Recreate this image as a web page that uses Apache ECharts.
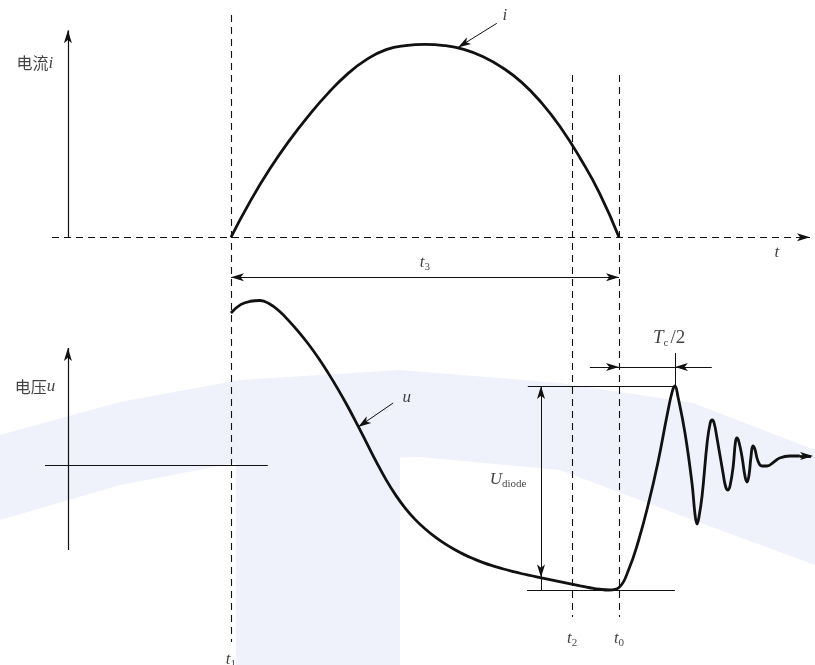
<!DOCTYPE html>
<html lang="zh">
<head>
    <meta charset="UTF-8">
    <title>电流电压波形</title>
    <script src="https://cdn.jsdelivr.net/npm/echarts@6/dist/echarts.min.js"></script>
    <style>
        html, body { margin: 0; padding: 0; background: #fff; }
        #box { width: 815px; height: 665px; }
    </style>
</head>
<body>
<div id="box"></div>
<script>
    // time axis: t1 = 0, t0 = 10 (schematic units)
    var T1 = 0, T2 = 8.79, T0 = 10;

    // current i (top plot)
    var curTime = [0, 0.5, 1.0, 1.5, 2.0, 2.5, 3.0, 3.5, 4.0, 4.5, 5.0, 5.5, 6.0, 6.5, 7.0, 7.5, 8.0, 8.5, 9.0, 9.5, 10];
    var curVal  = [0, 18.8, 35.4, 50.0, 63.0, 74.6, 84.6, 92.2, 97.3, 99.4, 100, 99.4, 97.4, 93.6, 87.9, 80.2, 69.8, 56.8, 41.0, 22.8, 0];

    // voltage u (bottom plot): slow swing sampled every 0.25, then the ringing after t0
    var volTime = [0, 0.25, 0.5, 0.75, 1.0, 1.25, 1.5, 1.75, 2.0, 2.25, 2.5, 2.75, 3.0, 3.25, 3.5, 3.75, 4.0,
        4.25, 4.5, 4.75, 5.0, 5.25, 5.5, 5.75, 6.0, 6.25, 6.5, 6.75, 7.0, 7.25, 7.5, 7.75, 8.0, 8.25, 8.5,
        8.75, 9.0, 9.25, 9.5, 9.75, 10.0, 10.25, 10.5, 10.75, 11.0, 11.25, 11.375, 11.44,
        11.52, 11.70, 11.88, 11.96, 12.01, 12.06, 12.14, 12.27, 12.35, 12.40, 12.45,
        12.52, 12.68, 12.75, 12.81, 12.86, 12.94, 13.00, 13.04, 13.09, 13.17, 13.25, 13.30, 13.35, 13.40,
        13.45, 13.50, 13.58, 13.68, 13.81, 13.99, 14.14, 14.40, 14.66];
    var volVal  = [1.216, 1.283, 1.310, 1.316, 1.288, 1.230, 1.151, 1.063, 0.966, 0.858, 0.739, 0.611, 0.474,
        0.327, 0.175, 0.023, -0.119, -0.243, -0.349, -0.437, -0.510, -0.573, -0.627, -0.674, -0.715, -0.750,
        -0.781, -0.807, -0.830, -0.851, -0.870, -0.886, -0.903, -0.919, -0.935, -0.951, -0.967, -0.982,
        -0.994, -1.0, -0.98, -0.836, -0.608, -0.32, 0.016, 0.416, 0.592, 0.632,
        0.544, 0.256, -0.144, -0.40, -0.472, -0.416, -0.248, 0.176, 0.336, 0.36, 0.336,
        0.224, -0.064, -0.176, -0.2, -0.168, -0.016, 0.184, 0.216, 0.184, 0.064, -0.096, -0.136, -0.08, 0.064,
        0.152, 0.128, 0.032, -0.008, -0.008, 0.024, 0.056, 0.072, 0.072];

    var U_PEAK = 0.632, U_LOW = -1.0, T_PEAK = 11.44;

    function pairs(xs, ys) {
        return xs.map(function (x, k) { return [x, ys[k]]; });
    }

    var ink = '#111';
    var serif = '"Liberation Serif", "DejaVu Serif", serif';
    var cjk = '"Noto Sans CJK SC", sans-serif';
    var solid = { color: ink, width: 1.2, type: 'solid' };
    var dashed = { color: ink, width: 1.1, type: [7, 5] };
    var thin = { color: ink, width: 1, type: 'solid' };

    // one segment for markLine; arrows: 0 none, 1 end, 2 both
    function seg(a, b, style, arrows) {
        return [
            { coord: a, lineStyle: style, symbol: arrows === 2 ? 'arrow' : 'none' },
            { coord: b, symbol: arrows >= 1 ? 'arrow' : 'none' }
        ];
    }

    var rich = {
        it: { fontFamily: serif, fontStyle: 'italic', fontSize: 17, lineHeight: 20, color: ink },
        big: { fontFamily: serif, fontStyle: 'italic', fontSize: 19, lineHeight: 22, color: ink },
        up: { fontFamily: serif, fontSize: 19, lineHeight: 22, color: ink, padding: [0, 0, 0, 2] },
        sub: { fontFamily: serif, fontSize: 11, lineHeight: 14, verticalAlign: 'bottom', color: ink },
        cn: { fontFamily: cjk, fontSize: 16, lineHeight: 20, color: ink }
    };

    function txt(pos, text) {
        return { value: pos, label: { formatter: text } };
    }

    var curLabels = [
        txt([-5.05, 90.2], '{cn|电流}{it|i}'),
        txt([14.07, -7.8], '{it|t}'),
        txt([7.06, 115], '{it|i}'),
        txt([5.0, -12.9], '{it|t}{sub|3}')
    ];
    var volLabels = [
        txt([-5.05, 0.624], '{cn|电压}{it|u}'),
        txt([4.53, 0.536], '{it|u}'),
        txt([7.14, -0.12], '{it|U}{sub|diode}'),
        txt([11.29, 1.016], '{big|T}{sub|c}{up|/2}'),
        txt([T1, -1.56], '{it|t}{sub|1}'),
        txt([T2, -1.39], '{it|t}{sub|2}'),
        txt([T0, -1.39], '{it|t}{sub|0}')
    ];

    var chart = echarts.init(document.getElementById('box'));
    var option = {
        animation: false,
        backgroundColor: '#fff',
        graphic: [
            {
                type: 'polygon', silent: true, z: 0,
                shape: { points: [[0, 435], [120, 402], [240, 380], [400, 370], [560, 383], [693, 403], [815, 450],
                    [815, 565], [693, 520], [560, 470], [420, 457], [240, 462], [120, 485], [0, 520]] },
                style: { fill: '#eff1fb' }
            },
            {
                type: 'rect', silent: true, z: 0,
                shape: { x: 236, y: 455, width: 164, height: 210 },
                style: { fill: '#eff1fb' }
            }
        ],
        grid: { left: 0, right: 0, top: 0, bottom: 0 },
        xAxis: { type: 'value', min: -5.95, max: 15.05, show: false },
        yAxis: [
            { type: 'value', min: -221.6, max: 123, show: false },
            { type: 'value', min: -1.6, max: 3.72, show: false }
        ],
        series: [
            {
                name: 'i', type: 'line', yAxisIndex: 0, z: 3,
                data: pairs(curTime, curVal),
                smooth: 0.5, showSymbol: false, symbol: 'none',
                lineStyle: { color: ink, width: 2.8 },
                markLine: {
                    silent: true, animation: false, symbolSize: [6, 13], label: { show: false },
                    data: [
                        seg([-4.20, 0], [-4.20, 107.3], solid, 1),
                        seg([-4.61, 0], [14.92, 0], dashed, 1),
                        seg([6.85, 110.9], [5.85, 98.4], thin, 1),
                        seg([T1, -20.7], [T0, -20.7], thin, 2)
                    ]
                }
            },
            {
                name: 'u', type: 'line', yAxisIndex: 1, z: 3,
                data: pairs(volTime, volVal),
                smooth: 0.45, showSymbol: false, symbol: 'none',
                lineStyle: { color: ink, width: 2.8 },
                markLine: {
                    silent: true, animation: false, symbolSize: [6, 13], label: { show: false },
                    data: [
                        seg([-4.20, -0.68], [-4.20, 0.936], solid, 1),
                        seg([-4.79, 0], [0.95, 0], solid, 0),
                        seg([T1, 3.6], [T1, -1.416], dashed, 0),
                        seg([T2, 3.12], [T2, -1.216], dashed, 0),
                        seg([T0, 3.12], [T0, -1.216], dashed, 0),
                        seg([4.18, 0.496], [3.28, 0.304], thin, 1),
                        seg([7.65, U_PEAK], [T_PEAK, U_PEAK], thin, 0),
                        seg([7.63, U_LOW], [T_PEAK, U_LOW], thin, 0),
                        seg([7.99, -0.2], [7.99, U_PEAK], thin, 1),
                        seg([7.99, -0.2], [7.99, -0.9], thin, 1),
                        seg([7.99, -0.9], [7.99, U_LOW], thin, 0),
                        seg([9.25, 0.784], [T0, 0.784], thin, 1),
                        seg([T0, 0.784], [T_PEAK, 0.784], thin, 0),
                        seg([12.39, 0.784], [T_PEAK, 0.784], thin, 1),
                        seg([T_PEAK, 0.896], [T_PEAK, U_PEAK], thin, 0),
                        seg([14.66, 0.072], [15.0, 0.072], { color: ink, width: 2.8 }, 1)
                    ]
                }
            },
            {
                name: 'curLabels', type: 'scatter', yAxisIndex: 0, symbolSize: 0, z: 4,
                data: curLabels,
                label: { show: true, position: 'inside', rich: rich }
            },
            {
                name: 'volLabels', type: 'scatter', yAxisIndex: 1, symbolSize: 0, z: 4,
                data: volLabels,
                label: { show: true, position: 'inside', rich: rich }
            }
        ]
    };
    chart.setOption(option);
</script>
</body>
</html>
